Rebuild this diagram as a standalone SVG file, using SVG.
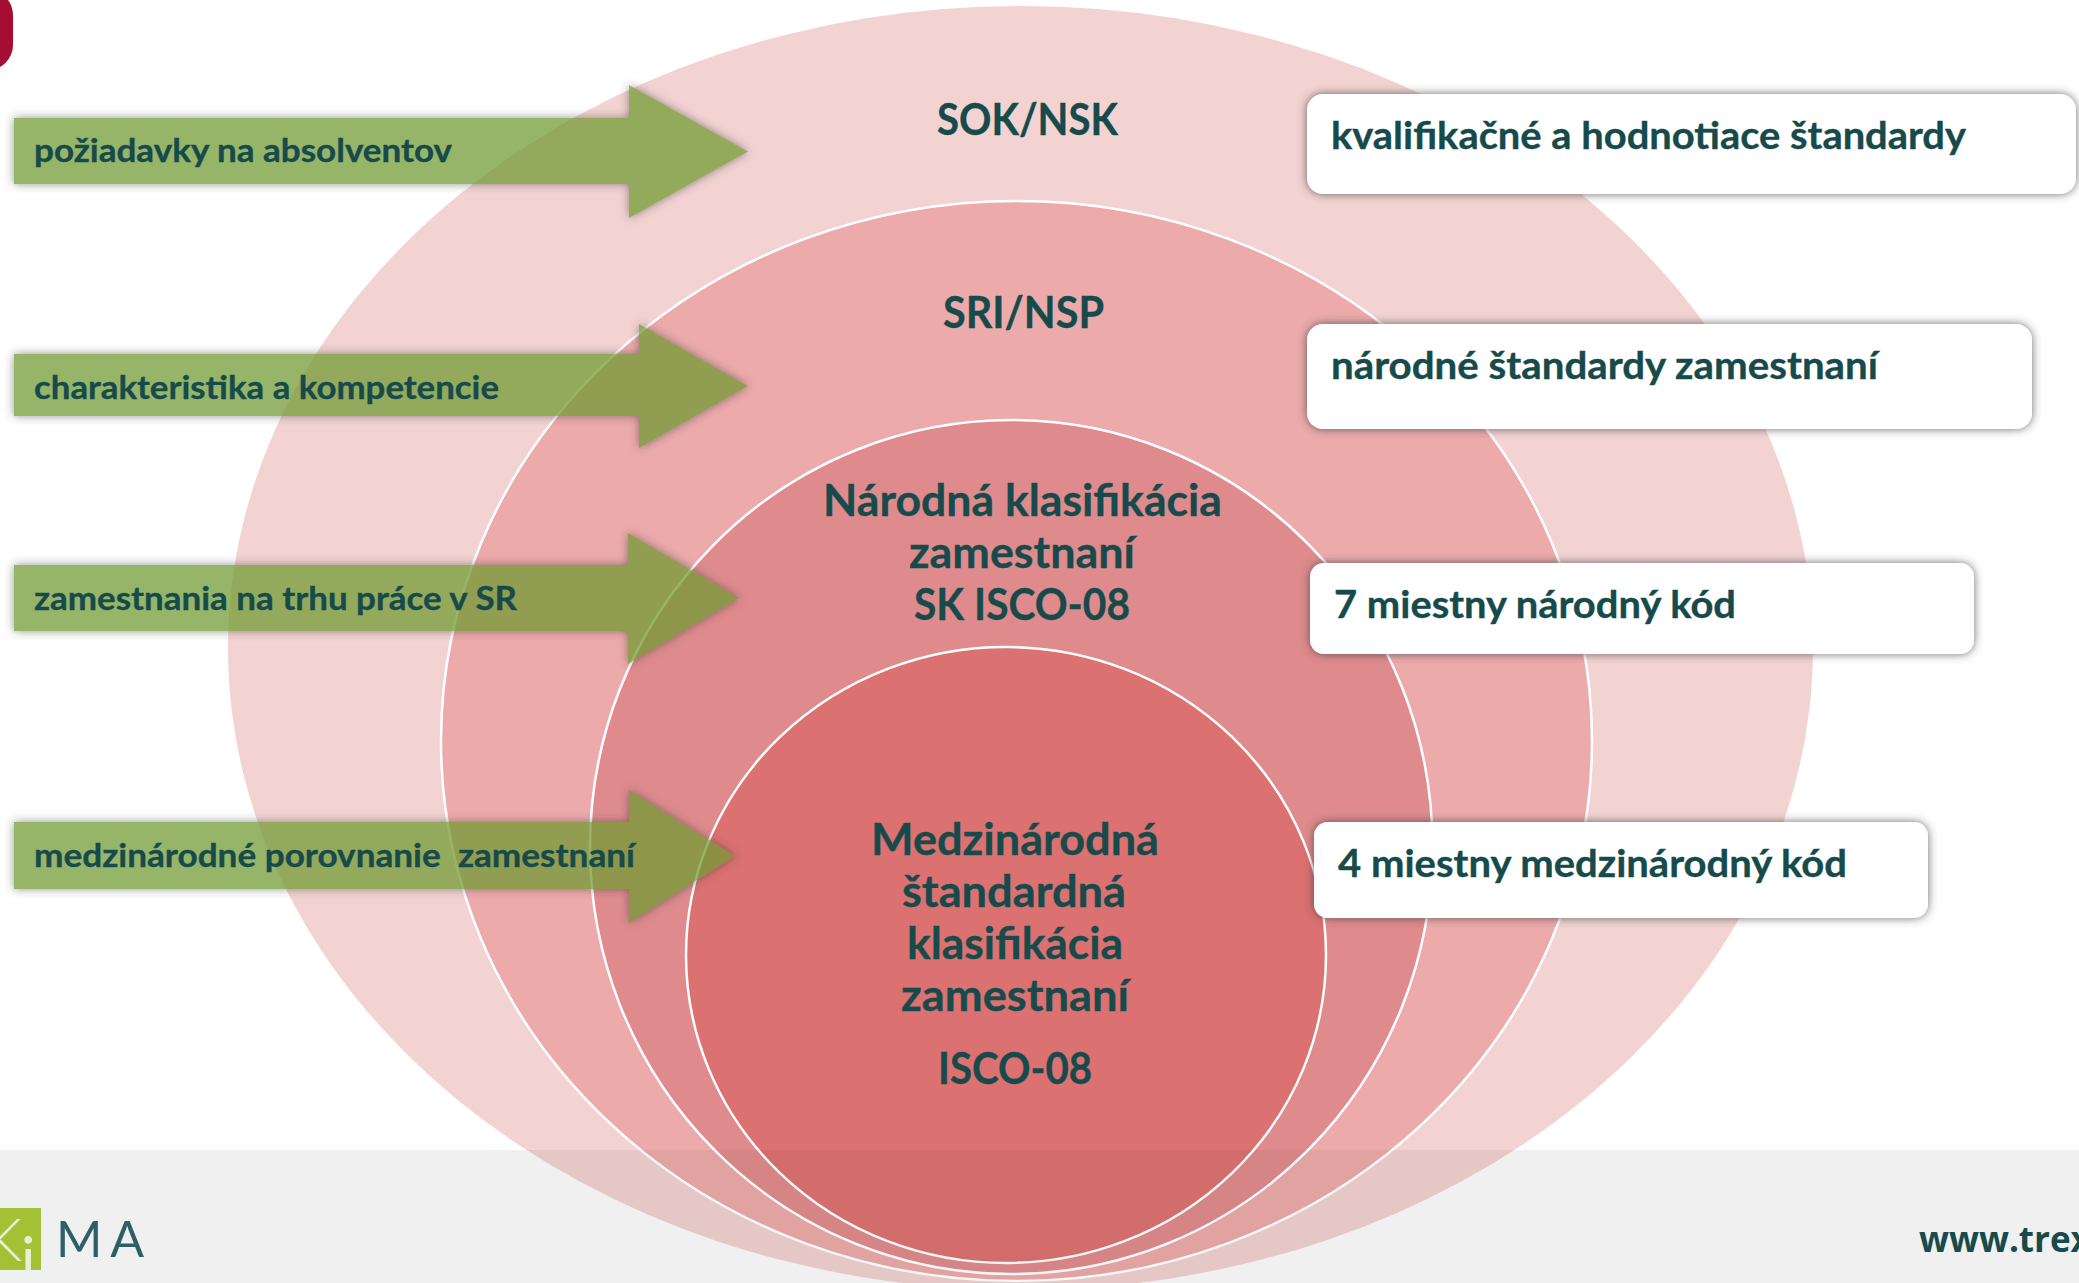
<svg xmlns="http://www.w3.org/2000/svg" width="2079" height="1283" viewBox="0 0 2079 1283">
<style>
text{font-family:"Lato","Liberation Sans",sans-serif;font-weight:700;fill:#164a4b;stroke:#164a4b;stroke-width:.35px}
.l{font-size:32px}
.b{font-size:38px}
.c{font-size:44px}
.ring{stroke:#fff;stroke-width:2.5}
.arrow{fill:#6f9930;fill-opacity:.73}
.ash{fill:#000;filter:url(#outer)}
.box{fill:#fff;filter:url(#shadow)}
</style>
<defs>
<filter id="outer" x="-10%" y="-30%" width="120%" height="160%">
<feGaussianBlur in="SourceAlpha" stdDeviation="5" result="b"/>
<feFlood flood-color="#3a3a3a" flood-opacity=".55"/>
<feComposite in2="b" operator="in" result="s"/>
<feComposite in="s" in2="SourceAlpha" operator="out"/>
</filter>
<filter id="shadow" x="-5%" y="-20%" width="110%" height="140%">
<feGaussianBlur in="SourceAlpha" stdDeviation="5" result="b"/>
<feFlood flood-color="#3a3a3a" flood-opacity=".75"/>
<feComposite in2="b" operator="in" result="s"/>
<feMerge><feMergeNode in="s"/><feMergeNode in="SourceGraphic"/></feMerge>
</filter>
<clipPath id="logoClip"><rect x="0" y="1208" width="41" height="62"/></clipPath>
</defs>

<rect id="footer" x="0" y="1150" width="2079" height="133" fill="#f9f9f9"/>
<rect id="corner-mark" x="-60" y="-10" width="73" height="80" rx="25" fill="#a50e32"/>

<g id="ring-sok"><ellipse cx="1020.5" cy="648" rx="792.5" ry="642" fill="#d46c69" fill-opacity=".3"/></g>
<g id="ring-sri"><ellipse class="ring" cx="1016.5" cy="741" rx="575.5" ry="540" fill="#e36f70" fill-opacity=".4"/></g>
<g id="ring-nk"><ellipse class="ring" cx="1011.3" cy="847" rx="421.3" ry="427" fill="#d1666b" fill-opacity=".45"/></g>
<g id="ring-isco"><ellipse class="ring" cx="1006" cy="955" rx="320" ry="308" fill="#d85854" fill-opacity=".5"/></g>

<rect id="footer-overlay" x="0" y="1150" width="2079" height="133" fill="#000" fill-opacity=".035"/>

<g id="label-sok"><text class="c" x="937" y="135" textLength="181" lengthAdjust="spacingAndGlyphs">SOK/NSK</text></g>
<g id="label-sri"><text class="c" x="943" y="328" textLength="161" lengthAdjust="spacingAndGlyphs">SRI/NSP</text></g>
<g id="label-nk">
<text class="c" x="823" y="516" textLength="399" lengthAdjust="spacingAndGlyphs">Národná klasifikácia</text>
<text class="c" x="909" y="568" textLength="226" lengthAdjust="spacingAndGlyphs">zamestnaní</text>
<text class="c" x="914" y="620" textLength="216" lengthAdjust="spacingAndGlyphs">SK ISCO-08</text>
</g>
<g id="label-isco">
<text class="c" x="871" y="855" textLength="288" lengthAdjust="spacingAndGlyphs">Medzinárodná</text>
<text class="c" x="902" y="907" textLength="224" lengthAdjust="spacingAndGlyphs">štandardná</text>
<text class="c" x="907" y="959" textLength="216" lengthAdjust="spacingAndGlyphs">klasifikácia</text>
<text class="c" x="901" y="1011" textLength="228" lengthAdjust="spacingAndGlyphs">zamestnaní</text>
<text class="c" x="938" y="1084" textLength="154" lengthAdjust="spacingAndGlyphs">ISCO-08</text>
</g>

<g id="arrow-poziadavky">
<polygon class="ash" points="14,118 629,118 629,85 748,151.5 629,218 629,184 14,184"/>
<polygon class="arrow" points="14,118 629,118 629,85 748,151.5 629,218 629,184 14,184"/>
<text class="l" x="34" y="162" textLength="418" lengthAdjust="spacingAndGlyphs">požiadavky na absolventov</text>
</g>
<g id="arrow-charakteristika">
<polygon class="ash" points="14,354 639,354 639,324 748,386 639,448 639,416 14,416"/>
<polygon class="arrow" points="14,354 639,354 639,324 748,386 639,448 639,416 14,416"/>
<text class="l" x="34" y="399" textLength="465" lengthAdjust="spacingAndGlyphs">charakteristika a kompetencie</text>
</g>
<g id="arrow-zamestnania">
<polygon class="ash" points="14,565 628,565 628,533 739,598 628,664 628,631 14,631"/>
<polygon class="arrow" points="14,565 628,565 628,533 739,598 628,664 628,631 14,631"/>
<text class="l" x="34" y="610" textLength="483" lengthAdjust="spacingAndGlyphs">zamestnania na trhu práce v SR</text>
</g>
<g id="arrow-medzinarodne">
<polygon class="ash" points="14,822 629,822 629,790 735,856 629,923 629,889 14,889"/>
<polygon class="arrow" points="14,822 629,822 629,790 735,856 629,923 629,889 14,889"/>
<text class="l" x="34" y="867" textLength="601" lengthAdjust="spacingAndGlyphs" xml:space="preserve">medzinárodné porovnanie  zamestnaní</text>
</g>

<g id="box-kvalifikacne">
<rect class="box" x="1307" y="94" width="769" height="100" rx="16"/>
<text class="b" x="1331" y="149" textLength="635" lengthAdjust="spacingAndGlyphs">kvalifikačné a hodnotiace štandardy</text>
</g>
<g id="box-narodne">
<rect class="box" x="1307" y="324" width="725" height="105" rx="16"/>
<text class="b" x="1331" y="379" textLength="547" lengthAdjust="spacingAndGlyphs">národné štandardy zamestnaní</text>
</g>
<g id="box-7">
<rect class="box" x="1310" y="563" width="664" height="91" rx="14"/>
<text class="b" x="1334" y="618" textLength="402" lengthAdjust="spacingAndGlyphs">7 miestny národný kód</text>
</g>
<g id="box-4">
<rect class="box" x="1314" y="822" width="614" height="96" rx="14"/>
<text class="b" x="1338" y="877" textLength="509" lengthAdjust="spacingAndGlyphs">4 miestny medzinárodný kód</text>
</g>

<g id="logo">
<rect x="0" y="1208" width="41" height="62" fill="#a4c136"/>
<g clip-path="url(#logoClip)">
<text x="-16" y="1261" style="font-weight:300;font-size:60px;fill:#eaf0d2;stroke:none">K</text>
<text x="21" y="1280" style="font-weight:400;font-size:60px;fill:#eaf0d2;stroke:none">i</text>
</g>
<text x="56" y="1257" textLength="88" style="font-weight:400;font-size:50px;fill:#2f5f66;stroke:none" xml:space="preserve">M A</text>
</g>
<text id="url" x="1919" y="1252" style="font-family:'Open Sans','Liberation Sans',sans-serif;font-size:35px;font-weight:700;stroke:none">www.trex</text>
</svg>
